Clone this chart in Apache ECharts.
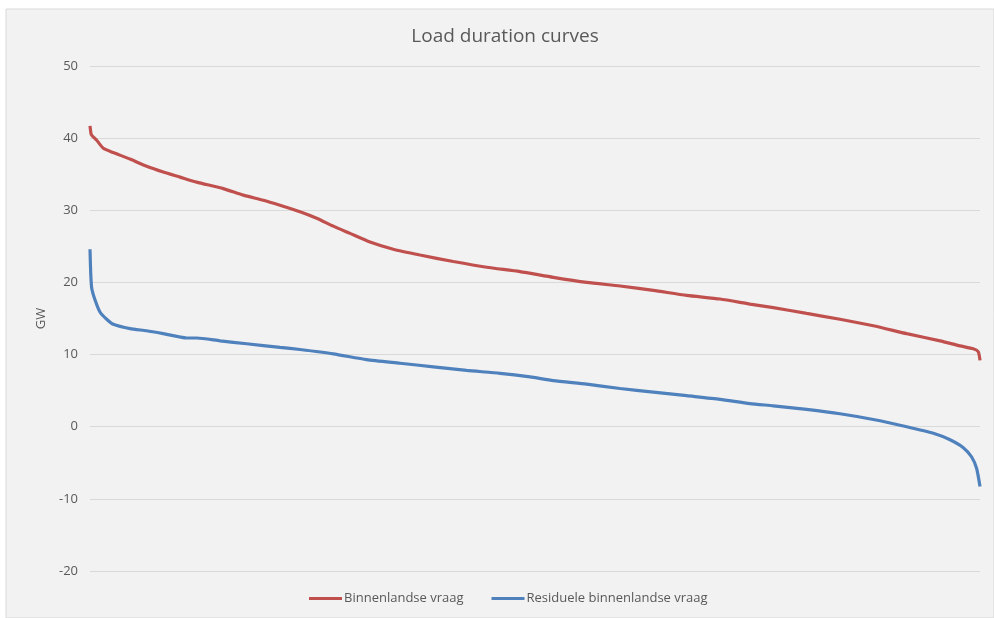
<!DOCTYPE html>
<html>
<head>
<meta charset="utf-8">
<script src="https://cdn.jsdelivr.net/npm/echarts@6/dist/echarts.min.js"></script>
<style>
html,body{margin:0;padding:0;background:#ffffff;}
#chart{width:994px;height:618px;}
</style>
</head>
<body>
<div id="chart"></div>
<script>
// Hours of the year (sorted duration) and loads in GW
var demandHours = [0, 10, 17, 66, 131, 229, 394, 558, 721, 886, 1050, 1312, 1509, 1706, 1870, 2067, 2231, 2395, 2559, 2756, 2985, 3248, 3576, 3905, 4232, 4560, 4889, 5217, 5545, 5873, 6201, 6496, 6726, 7054, 7382, 7710, 8039, 8367, 8563, 8694, 8743, 8760];
var demandValues = [41.7, 40.6, 40.4, 39.7, 38.6, 38.0, 37.1, 36.1, 35.3, 34.6, 33.9, 33.0, 32.1, 31.4, 30.7, 29.8, 28.9, 27.8, 26.8, 25.6, 24.6, 23.8, 22.9, 22.1, 21.5, 20.7, 20.0, 19.5, 18.9, 18.2, 17.7, 17.0, 16.5, 15.7, 14.9, 14.0, 12.9, 11.9, 11.2, 10.8, 10.4, 9.2];

var residualHours = [0, 7, 17, 49, 98, 164, 229, 394, 558, 721, 951, 1050, 1280, 1542, 1870, 2067, 2395, 2723, 3051, 3379, 3707, 4036, 4331, 4560, 4889, 5217, 5545, 5873, 6201, 6496, 6726, 7054, 7382, 7710, 8039, 8301, 8465, 8596, 8678, 8727, 8760];
var residualValues = [24.6, 21.3, 19.2, 17.6, 15.9, 14.9, 14.2, 13.6, 13.3, 12.9, 12.3, 12.3, 11.9, 11.5, 11.0, 10.7, 10.1, 9.3, 8.8, 8.3, 7.8, 7.4, 6.9, 6.4, 5.9, 5.3, 4.8, 4.3, 3.8, 3.2, 2.9, 2.4, 1.8, 1.0, 0.0, -0.9, -1.8, -2.9, -4.2, -5.8, -8.3];

var seriesNames = ['Binnenlandse vraag', 'Residuele binnenlandse vraag'];
var titleText = 'Load duration curves';
var yAxisName = 'GW';

function pairs(xs, ys) {
  return xs.map(function (x, i) { return [x, ys[i]]; });
}

var chart = echarts.init(document.getElementById('chart'), null, {renderer: 'canvas'});
var font = 'Open Sans, Noto Sans, sans-serif';
chart.setOption({
  animation: false,
  backgroundColor: '#ffffff',
  graphic: [{
    type: 'rect',
    z: -10,
    silent: true,
    shape: {x: 6, y: 9, width: 988, height: 609},
    style: {fill: '#F2F2F2', stroke: '#D9D9D9', lineWidth: 1}
  }],
  title: {
    text: titleText,
    left: 500,
    textAlign: 'center',
    top: 22,
    textStyle: {color: '#595959', fontSize: 19, fontWeight: 'normal', fontFamily: font}
  },
  legend: {
    bottom: 8,
    left: 304,
    itemWidth: 33,
    itemHeight: 3,
    itemGap: 28,
    icon: 'rect',
    textStyle: {color: '#595959', fontSize: 13, fontFamily: font, padding: [0, 0, 0, -3]},
    data: seriesNames
  },
  grid: {left: 90, right: 14, top: 66, bottom: 47, containLabel: false},
  xAxis: {
    type: 'value',
    min: 0,
    max: 8760,
    axisLine: {show: false},
    axisTick: {show: false},
    axisLabel: {show: false},
    splitLine: {show: false}
  },
  yAxis: {
    type: 'value',
    min: -20,
    max: 50,
    interval: 10,
    name: yAxisName,
    nameLocation: 'middle',
    nameRotate: 90,
    nameGap: 38,
    nameTextStyle: {color: '#595959', fontSize: 13, fontFamily: font},
    axisLine: {show: false},
    axisTick: {show: false},
    axisLabel: {color: '#595959', fontSize: 13, fontFamily: font, margin: 12},
    splitLine: {lineStyle: {color: '#D9D9D9', width: 1}}
  },
  series: [
    {
      name: seriesNames[0],
      type: 'line',
      data: pairs(demandHours, demandValues),
      showSymbol: false,
      symbol: 'none',
      smooth: 0.2,
      color: '#C0504D',
      lineStyle: {color: '#C0504D', width: 3.2}
    },
    {
      name: seriesNames[1],
      type: 'line',
      data: pairs(residualHours, residualValues),
      showSymbol: false,
      symbol: 'none',
      smooth: 0.2,
      color: '#4F81BD',
      lineStyle: {color: '#4F81BD', width: 3.2}
    }
  ]
});
</script>
</body>
</html>
